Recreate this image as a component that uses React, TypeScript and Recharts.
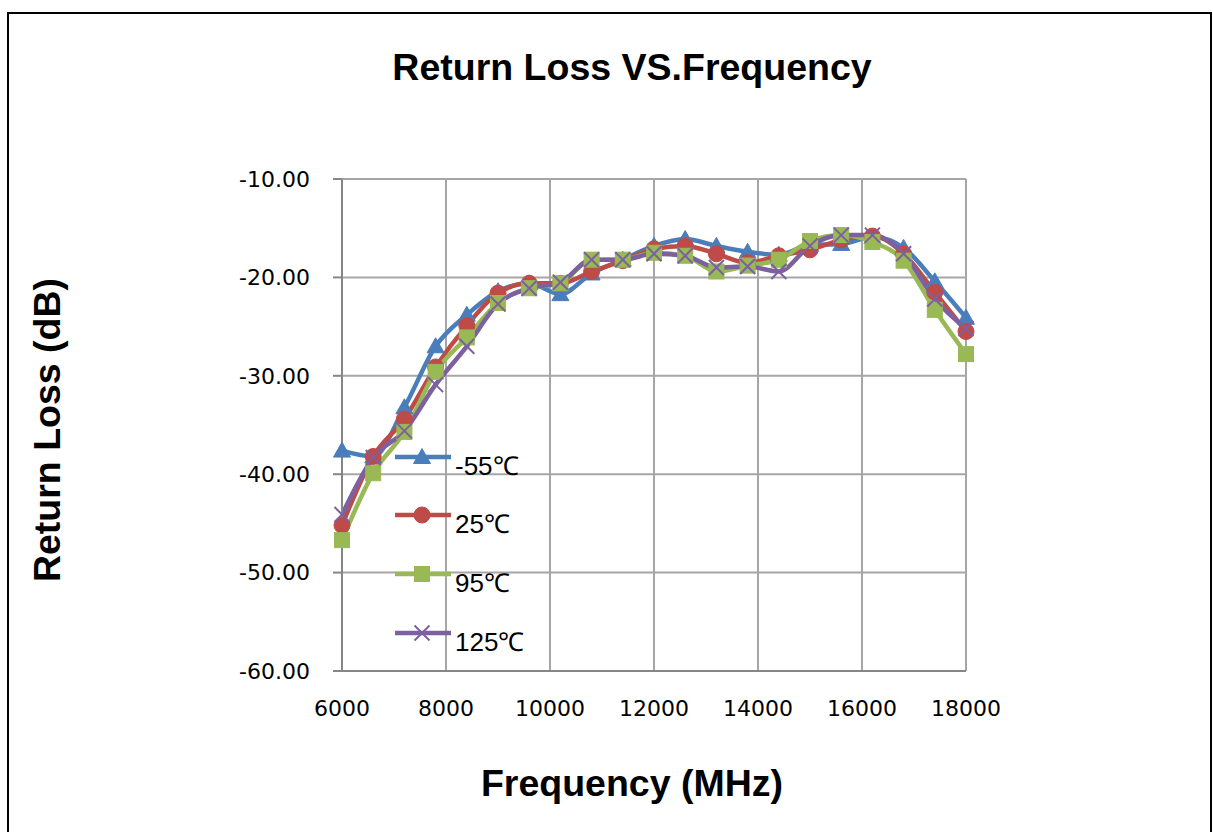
import React from 'react';
import { LineChart, Line, XAxis, YAxis, CartesianGrid } from 'recharts';

const FREQ_MHZ = [6000, 6600, 7200, 7800, 8400, 9000, 9600, 10200, 10800, 11400, 12000, 12600, 13200, 13800, 14400, 15000, 15600, 16200, 16800, 17400, 18000];
const RL_M55 = [-37.6, -38.2, -33.2, -27.0, -23.8, -21.4, -20.6, -21.7, -19.6, -18.2, -16.8, -16.1, -16.8, -17.4, -17.7, -16.7, -16.6, -15.9, -17.0, -20.4, -24.1];
const RL_25 = [-45.2, -38.2, -34.4, -29.1, -24.9, -21.6, -20.6, -20.6, -19.4, -18.3, -17.1, -16.8, -17.6, -18.5, -17.8, -17.2, -16.2, -15.8, -17.6, -21.5, -25.5];
const RL_95 = [-46.7, -39.9, -35.7, -29.6, -26.1, -22.6, -21.1, -20.6, -18.2, -18.2, -17.5, -17.8, -19.4, -18.8, -18.2, -16.3, -15.7, -16.4, -18.3, -23.3, -27.8];
const RL_125 = [-44.1, -38.3, -35.6, -30.9, -27.0, -22.7, -21.1, -20.5, -18.2, -18.2, -17.6, -17.8, -19.0, -18.9, -19.4, -16.8, -15.7, -15.7, -17.6, -22.2, -25.2];

const X_TICKS = [6000, 8000, 10000, 12000, 14000, 16000, 18000];
const Y_TICKS = [-60, -50, -40, -30, -20, -10];
const SERIES_NAMES = ['-55℃', '25℃', '95℃', '125℃'];

const TITLE = 'Return Loss VS.Frequency';
const X_TITLE = 'Frequency (MHz)';
const Y_TITLE = 'Return Loss (dB)';

const COLORS = ['#4A7EBB', '#BE4B48', '#98B954', '#7D60A0'];
const KEYS = ['m55', 'p25', 'p95', 'p125'];

const data = FREQ_MHZ.map((f, i) => ({
  f,
  m55: RL_M55[i],
  p25: RL_25[i],
  p95: RL_95[i],
  p125: RL_125[i],
}));

function markerShape(kind: number, cx: number, cy: number, color: string, key?: any) {
  if (kind === 0) {
    return <path key={key} d={`M${cx},${cy - 8.5} L${cx - 8.5},${cy + 6.5} L${cx + 8.5},${cy + 6.5} Z`} fill={color} stroke={color} strokeWidth={1} />;
  }
  if (kind === 1) {
    return <circle key={key} cx={cx} cy={cy} r={8} fill={color} stroke={color} strokeWidth={1} />;
  }
  if (kind === 2) {
    return <rect key={key} x={cx - 7.5} y={cy - 7.5} width={15} height={15} fill={color} stroke={color} strokeWidth={1} />;
  }
  return (
    <g key={key}>
      <line x1={cx - 7.5} y1={cy - 7.5} x2={cx + 7.5} y2={cy + 7.5} stroke={color} strokeWidth={2} />
      <line x1={cx - 7.5} y1={cy + 7.5} x2={cx + 7.5} y2={cy - 7.5} stroke={color} strokeWidth={2} />
    </g>
  );
}

function makeDot(kind: number, color: string) {
  return (props: any) => {
    const { cx, cy, index } = props;
    if (cx == null || cy == null) return <g key={`d${kind}-${index}`} />;
    return markerShape(kind, cx, cy, color, `d${kind}-${index}`);
  };
}

const FONT_TICK = 'DejaVu Sans';
const FONT_LEGEND = '"Liberation Sans", Arial, sans-serif';
const FONT_TITLE = '"Liberation Sans", Arial, sans-serif';

export default function App() {
  const legendY = [457, 515, 574, 633];
  return (
    <div style={{ position: 'absolute', left: 0, top: 0, width: 1213, height: 832, background: '#fff', overflow: 'hidden' }}>
      <LineChart
        width={1213}
        height={832}
        data={data}
        margin={{ top: 179, right: 247, bottom: 131, left: 262 }}
        style={{ position: 'absolute', left: 0, top: 0 }}
      >
        <CartesianGrid stroke="#a6a6a6" strokeWidth={2} />
        <XAxis
          dataKey="f"
          type="number"
          domain={[6000, 18000]}
          ticks={X_TICKS}
          height={30}
          tickLine={false}
          tickSize={0}
          tickMargin={29}
          axisLine={{ stroke: '#868686', strokeWidth: 2 }}
          tick={{ fill: '#000', fontSize: 22, fontFamily: FONT_TICK }}
          interval={0}
        />
        <YAxis
          type="number"
          domain={[-60, -10]}
          ticks={Y_TICKS}
          width={80}
          tickSize={9}
          tickMargin={23}
          tickLine={{ stroke: '#868686', strokeWidth: 2 }}
          axisLine={{ stroke: '#868686', strokeWidth: 2 }}
          tick={{ fill: '#000', fontSize: 22, fontFamily: FONT_TICK }}
          tickFormatter={(v: number) => v.toFixed(2)}
          interval={0}
        />
        {KEYS.map((k, i) => (
          <Line
            key={k}
            dataKey={k}
            name={SERIES_NAMES[i]}
            type="monotone"
            stroke={COLORS[i]}
            strokeWidth={4.5}
            dot={makeDot(i, COLORS[i])}
            activeDot={false}
            isAnimationActive={false}
          />
        ))}
      </LineChart>
      <svg width={1213} height={832} style={{ position: 'absolute', left: 0, top: 0, pointerEvents: 'none' }}>
        <rect x={8} y={13} width={1203} height={840} fill="none" stroke="#000" strokeWidth={2} />
        <text x={632} y={80} textAnchor="middle" fontFamily={FONT_TITLE} fontWeight="bold" fontSize={37.5} fill="#000">{TITLE}</text>
        <text x={632} y={796} textAnchor="middle" fontFamily={FONT_TITLE} fontWeight="bold" fontSize={37.5} fill="#000">{X_TITLE}</text>
        <text x={59.5} y={430} textAnchor="middle" transform="rotate(-90 59.5 430)" fontFamily={FONT_TITLE} fontWeight="bold" fontSize={37.5} fill="#000">{Y_TITLE}</text>
        {SERIES_NAMES.map((n, i) => (
          <g key={n}>
            <line x1={395} y1={legendY[i]} x2={451} y2={legendY[i]} stroke={COLORS[i]} strokeWidth={4.5} />
            {markerShape(i, 422, legendY[i], COLORS[i])}
            <text x={455} y={legendY[i] + 18} fontFamily={FONT_LEGEND} fontSize={26} fill="#000">{n}</text>
          </g>
        ))}
      </svg>
    </div>
  );
}
